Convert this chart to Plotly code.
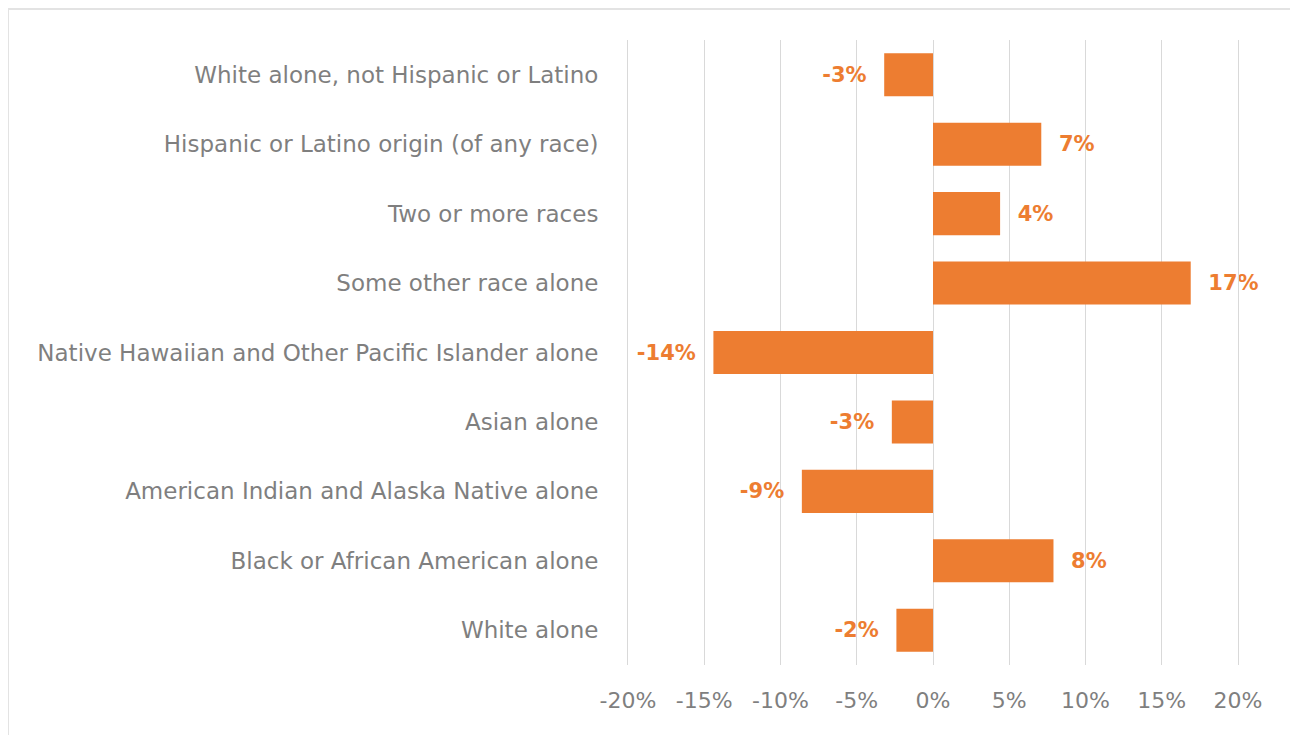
import plotly.graph_objects as go

categories = [
    "White alone",
    "Black or African American alone",
    "American Indian and Alaska Native alone",
    "Asian alone",
    "Native Hawaiian and Other Pacific Islander alone",
    "Some other race alone",
    "Two or more races",
    "Hispanic or Latino origin (of any race)",
    "White alone, not Hispanic or Latino",
]
values = [-2.4, 7.9, -8.6, -2.7, -14.4, 16.9, 4.4, 7.1, -3.2]
tick_vals = [-20, -15, -10, -5, 0, 5, 10, 15, 20]
tick_text = ["-20%", "-15%", "-10%", "-5%", "0%", "5%", "10%", "15%", "20%"]

pad = "\u00a0\u00a0"
labels = [(pad + f"{round(v):d}%") if v >= 0 else (f"{round(v):d}%" + pad) for v in values]

# page offset of the plot div (body margin 8px)
OFF = 8
W, H = 1298, 735
L, R, T, B = 628 - OFF, 68, 40 - OFF, 78
pw, ph = W - L - R, H - T - B

def px_x(p):
    return (p - OFF - L) / pw

def px_y(p):
    return (H - B - (p - OFF)) / ph

FONT = "DejaVu Sans"
GRAY = "#7f7f7f"
GRID = "#d9d9d9"

fig = go.Figure(go.Bar(
    x=values, y=categories, orientation="h",
    marker=dict(color="#ED7D31", line=dict(width=0)),
    text=labels, textposition="outside",
    textfont=dict(color="#ED7D31", size=21, family=FONT, weight="bold"),
    cliponaxis=False,
))

fig.update_layout(
    width=W, height=H,
    margin=dict(l=L, r=R, t=T, b=B),
    paper_bgcolor="white", plot_bgcolor="white",
    bargap=0.38,
    showlegend=False,
    font=dict(family=FONT, color=GRAY),
    xaxis=dict(
        range=[-20, 20], tickvals=tick_vals, ticktext=tick_text,
        showgrid=True, gridcolor=GRID, gridwidth=1,
        zeroline=False, showline=False,
        tickfont=dict(size=22, color=GRAY, family=FONT),
        ticklabelstandoff=20,
    ),
    yaxis=dict(
        categoryorder="array", categoryarray=categories,
        showgrid=False, zeroline=False,
        showline=True, mirror=True, linecolor=GRID, linewidth=1,
        tickfont=dict(size=23, color=GRAY, family=FONT),
        ticklabelstandoff=24,
    ),
    shapes=[dict(
        type="rect", xref="paper", yref="paper",
        x0=px_x(8), x1=px_x(1294), y0=px_y(780), y1=px_y(9),
        line=dict(color="#e3e3e3", width=2), fillcolor="rgba(0,0,0,0)",
        layer="below",
    )],
)

fig.write_html("out.html")
